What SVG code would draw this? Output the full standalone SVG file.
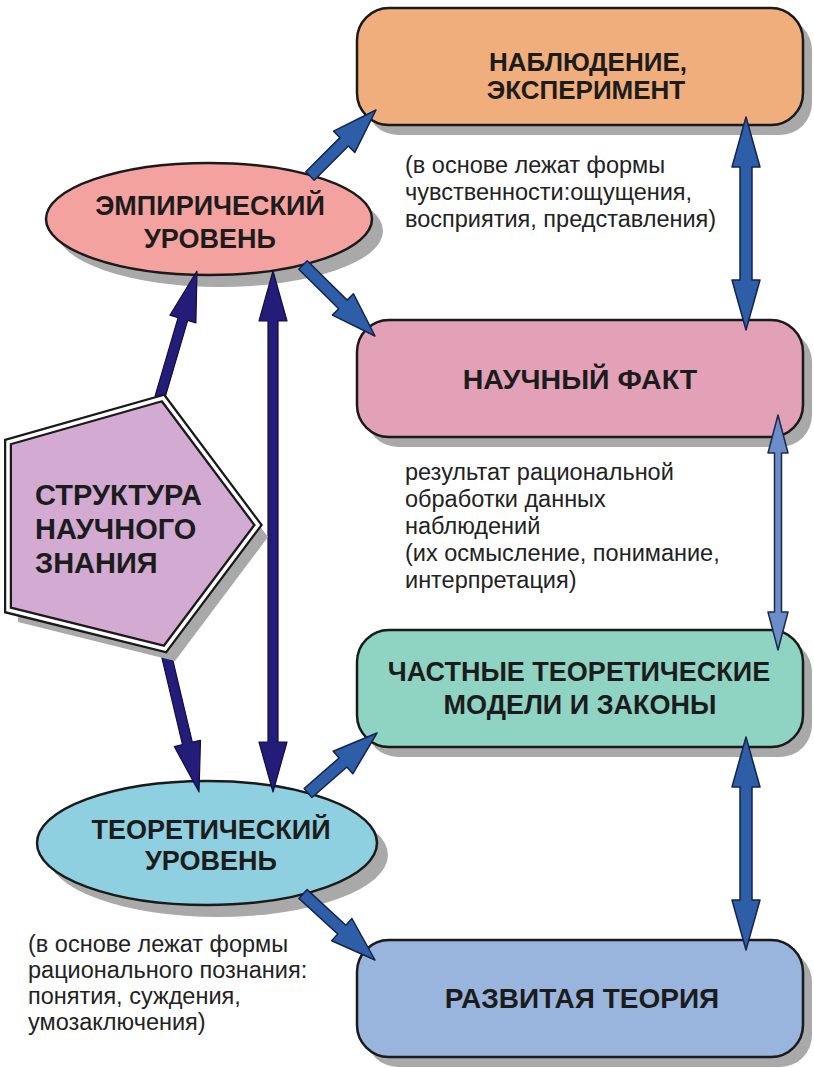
<svg xmlns="http://www.w3.org/2000/svg" width="814" height="1068" viewBox="0 0 814 1068">
<style>
.shadow{fill:#a9a9a9}
.box{stroke:#1a1a1a;stroke-width:2.5}
.title{font-family:"Liberation Sans",Arial,sans-serif;font-weight:bold;font-size:27px;fill:#1c1c1c;text-anchor:middle}
.note{font-family:"Liberation Sans",Arial,sans-serif;font-size:23.5px;fill:#222}
.dark{fill:#231c78;stroke:#120e40;stroke-width:1.2;stroke-linejoin:round}
.blue{fill:#2f5ea8;stroke:#12244a;stroke-width:1.5;stroke-linejoin:round}
.light{fill:#6c8dca;stroke:#1c2a48;stroke-width:1.5;stroke-linejoin:round}
</style>
<rect width="814" height="1068" fill="#ffffff"/>
<g id="box-observation">
<rect class="shadow" x="366" y="18" width="446" height="117" rx="32"/>
<rect class="box" x="357" y="8" width="446" height="117" rx="32" fill="#f1ae7d"/>
<text class="title" x="588" y="71" style="font-size:26px">НАБЛЮДЕНИЕ,</text>
<text class="title" x="586" y="99" style="font-size:26px">ЭКСПЕРИМЕНТ</text>
</g>
<g id="box-fact">
<rect class="shadow" x="366" y="330" width="446" height="117" rx="32"/>
<rect class="box" x="357" y="320" width="446" height="117" rx="32" fill="#e3a1b7"/>
<text class="title" x="580" y="389" style="font-size:28.5px">НАУЧНЫЙ ФАКТ</text>
</g>
<g id="box-models">
<rect class="shadow" x="366" y="640" width="446" height="117" rx="32"/>
<rect class="box" x="357" y="630" width="446" height="117" rx="32" fill="#8fd3c3"/>
<text class="title" x="579" y="681">ЧАСТНЫЕ ТЕОРЕТИЧЕСКИЕ</text>
<text class="title" x="580" y="714">МОДЕЛИ И ЗАКОНЫ</text>
</g>
<g id="box-theory">
<rect class="shadow" x="366" y="950" width="446" height="117" rx="32"/>
<rect class="box" x="357" y="940" width="446" height="117" rx="32" fill="#99b5dd"/>
<text class="title" x="582" y="1008" style="font-size:28px">РАЗВИТАЯ ТЕОРИЯ</text>
</g>
<g id="empirical">
<ellipse class="shadow" cx="220" cy="231" rx="163" ry="56"/>
<ellipse class="box" cx="209" cy="219" rx="163" ry="56" fill="#f4a2a0"/>
<text class="title" x="210" y="215">ЭМПИРИЧЕСКИЙ</text>
<text class="title" x="210" y="248">УРОВЕНЬ</text>
</g>
<g id="theoretical">
<ellipse class="shadow" cx="218" cy="855" rx="170" ry="62"/>
<ellipse class="box" cx="207" cy="843" rx="170" ry="62" fill="#8fd0e0"/>
<text class="title" x="211" y="839">ТЕОРЕТИЧЕСКИЙ</text>
<text class="title" x="211" y="870">УРОВЕНЬ</text>
</g>
<g id="notes">
<text class="note" x="405" y="173">(в основе лежат формы</text>
<text class="note" x="405" y="200">чувственности:ощущения,</text>
<text class="note" x="405" y="227">восприятия, представления)</text>
<text class="note" x="405" y="480">результат рациональной</text>
<text class="note" x="405" y="507">обработки данных</text>
<text class="note" x="405" y="534">наблюдений</text>
<text class="note" x="405" y="561">(их осмысление, понимание,</text>
<text class="note" x="405" y="588">интерпретация)</text>
<text class="note" x="28" y="952">(в основе лежат формы</text>
<text class="note" x="28" y="978">рационального познания:</text>
<text class="note" x="28" y="1004">понятия, суждения,</text>
<text class="note" x="28" y="1030">умозаключения)</text>
</g>
<g id="connectors">
<polygon class="dark" points="164.8,398.4 187.7,320.4 195.9,322.8 197,271 169.9,315.2 178.1,317.6 155.2,395.6"/>
<polygon class="dark" points="169.9,647.8 192.3,742.2 200.5,740.3 199,792 174.3,746.5 182.5,744.6 160.1,650.2"/>
<polygon class="dark" points="273,271 287,321 278,321 278,742 287,742 273,792 259,742 268,742 268,321 259,321"/>
<polygon class="blue" points="314.2,180.2 348.4,146.0 354.8,152.4 376,110 333.6,131.2 340.0,137.6 305.8,171.8"/>
<polygon class="blue" points="307.2,260.7 347.1,300.1 353.4,293.7 375,336 332.4,315.1 338.7,308.7 298.8,269.3"/>
<polygon class="blue" points="311.9,797.5 346.9,767.0 352.8,773.8 377,733 333.2,751.2 339.1,758.0 304.1,788.5"/>
<polygon class="blue" points="307.1,889.6 345.9,925.2 351.9,918.5 375,960 331.7,940.7 337.7,934.0 298.9,898.4"/>
<polygon class="blue" points="746,117 760,167 752,167 752,280 760,280 746,330 732,280 740,280 740,167 732,167"/>
<polygon class="blue" points="746,737 760,787 752,787 752,900 760,900 746,950 732,900 740,900 740,787 732,787"/>
<polygon class="light" points="778,415 788,453 781.5,453 781.5,612 788,612 778,650 768,612 774.5,612 774.5,453 768,453"/>
</g>
<g id="structure">
<polygon class="shadow" points="173,410 268,537 175,661 18,622 18,454"/>
<polygon points="163,398 258,525 165,649 8,610 8,442" fill="#d2aad2" stroke="#1a1a1a" stroke-width="8" stroke-linejoin="miter"/>
<polygon points="163,398 258,525 165,649 8,610 8,442" fill="none" stroke="#ffffff" stroke-width="3.5" stroke-linejoin="miter"/>
<text class="title" x="35" y="505" style="text-anchor:start;font-size:29px">СТРУКТУРА</text>
<text class="title" x="35" y="539" style="text-anchor:start;font-size:29px">НАУЧНОГО</text>
<text class="title" x="35" y="573" style="text-anchor:start;font-size:29px">ЗНАНИЯ</text>
</g>
</svg>
